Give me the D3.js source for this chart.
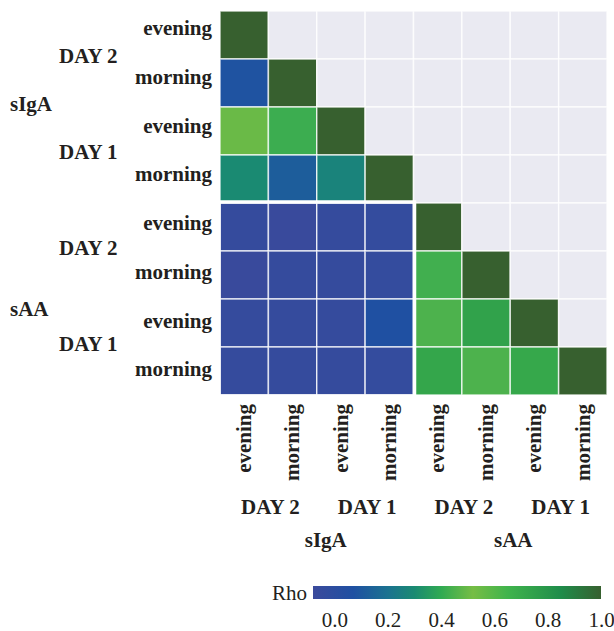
<!DOCTYPE html>
<html>
<head>
<meta charset="utf-8">
<script src="https://cdn.jsdelivr.net/npm/d3@7"></script>
<style>
  html, body { margin: 0; padding: 0; background: #ffffff; }
  svg { display: block; }
  text { font-family: "Liberation Serif", "DejaVu Serif", serif; fill: #231f20; }
</style>
</head>
<body>
<svg id="chart" width="614" height="631"></svg>
<script>
// ---------------- data ----------------
const analytes = ["sIgA", "sAA"];
const days = ["DAY 2", "DAY 1"];
const times = ["evening", "morning"];

// Spearman rho, rows/cols ordered: sIgA D2 ev, sIgA D2 mo, sIgA D1 ev, sIgA D1 mo,
// sAA D2 ev, sAA D2 mo, sAA D1 ev, sAA D1 mo  (null = upper triangle, not shown)
const rho = [
  [1.00, null, null, null, null, null, null, null],
  [0.08, 1.00, null, null, null, null, null, null],
  [0.50, 0.42, 1.00, null, null, null, null, null],
  [0.30, 0.12, 0.27, 1.00, null, null, null, null],
  [-0.05, -0.07, -0.05, -0.04, 1.00, null, null, null],
  [-0.07, -0.05, -0.05, -0.04, 0.43, 1.00, null, null],
  [-0.05, -0.05, -0.05, 0.07, 0.45, 0.74, 1.00, null],
  [-0.05, -0.05, -0.05, -0.04, 0.72, 0.45, 0.71, 1.00]
];

const colorStops = [-0.08, 0.07, 0.2, 0.3, 0.4, 0.52, 0.65, 0.85, 1.0];
const colorValues = ["#3b4a9c", "#1f50a2", "#1b7290", "#1a8a72", "#30aa52", "#76bd45", "#40b44c", "#1f8c4a", "#37602f"];
const legendTicks = [0.0, 0.2, 0.4, 0.6, 0.8, 1.0];

// ---------------- build ----------------
const keys = [];
analytes.forEach(a => days.forEach(d => times.forEach(t => keys.push(a + "|" + d + "|" + t))));

const svg = d3.select("#chart");
const x = d3.scaleBand().domain(keys).range([220, 607]);
const y = d3.scaleBand().domain(keys).range([11, 395]);
const yLab = d3.scalePoint().domain(keys).range([30, 371]);
const color = d3.scaleLinear().domain(colorStops).range(colorValues).clamp(true);

const cells = [];
keys.forEach((rk, i) => keys.forEach((ck, j) => cells.push({ r: rk, c: ck, v: rho[i][j] })));

const g = svg.append("g");
g.selectAll("rect.cell").data(cells).join("rect")
  .attr("class", "cell")
  .attr("x", d => x(d.c))
  .attr("y", d => y(d.r))
  .attr("width", x.bandwidth())
  .attr("height", y.bandwidth())
  .attr("fill", d => d.v === null ? "#eaeaf2" : color(d.v))
  .attr("stroke", "#ffffff")
  .attr("stroke-opacity", 0.75)
  .attr("stroke-width", 1.5);

// white frame around the cross block (sAA rows x sIgA columns)
const sIgAKeys = keys.filter(k => k.startsWith("sIgA"));
const sAAKeys = keys.filter(k => k.startsWith("sAA"));
g.append("rect")
  .attr("x", x(sIgAKeys[0]) - 1)
  .attr("y", y(sAAKeys[0]) - 1)
  .attr("width", x.bandwidth() * sIgAKeys.length + 2)
  .attr("height", y.bandwidth() * sAAKeys.length + 2)
  .attr("fill", "none")
  .attr("stroke", "#ffffff")
  .attr("stroke-width", 3.5);

// ---------------- row labels ----------------
const bold = 21;
keys.forEach(k => {
  const t = k.split("|")[2];
  svg.append("text")
    .attr("x", 212)
    .attr("y", yLab(k))
    .attr("dy", "0.25em")
    .attr("text-anchor", "end")
    .attr("font-weight", "bold")
    .attr("font-size", bold)
    .text(t);
});
analytes.forEach((a, ai) => {
  days.forEach((d, di) => {
    const kk = keys.filter(k => k.startsWith(a + "|" + d + "|"));
    const yc = (y(kk[0]) + y(kk[kk.length - 1]) + y.bandwidth()) / 2;
    svg.append("text")
      .attr("x", 59).attr("y", yc - 3).attr("dy", "0.32em")
      .attr("font-weight", "bold").attr("font-size", bold)
      .text(d);
    const xc = (x(kk[0]) + x(kk[kk.length - 1]) + x.bandwidth()) / 2;
    svg.append("text")
      .attr("x", xc + 2).attr("y", 507).attr("dy", "0.32em")
      .attr("text-anchor", "middle")
      .attr("font-weight", "bold").attr("font-size", bold)
      .text(d);
  });
  const ka = keys.filter(k => k.startsWith(a + "|"));
  const ya = (y(ka[0]) + y(ka[ka.length - 1]) + y.bandwidth()) / 2;
  svg.append("text")
    .attr("x", 10).attr("y", ya + (ai === 0 ? -3 : 10)).attr("dy", "0.32em")
    .attr("font-weight", "bold").attr("font-size", bold)
    .text(a);
  const xa = (x(ka[0]) + x(ka[ka.length - 1]) + x.bandwidth()) / 2;
  svg.append("text")
    .attr("x", xa + (ai === 0 ? 9 : 3)).attr("y", 540).attr("dy", "0.32em")
    .attr("text-anchor", "middle")
    .attr("font-weight", "bold").attr("font-size", bold)
    .text(a);
});

// ---------------- column labels ----------------
keys.forEach(k => {
  const t = k.split("|")[2];
  const cx = x(k) + x.bandwidth() / 2;
  svg.append("text")
    .attr("transform", `translate(${cx},404) rotate(-90)`)
    .attr("dy", "0.32em")
    .attr("text-anchor", "end")
    .attr("font-weight", "bold")
    .attr("font-size", bold)
    .text(t);
});

// ---------------- legend ----------------
const lx = d3.scaleLinear().domain([-0.08, 1.0]).range([313, 601]);
const defs = svg.append("defs");
const grad = defs.append("linearGradient").attr("id", "rhoGrad")
  .attr("x1", "0%").attr("x2", "100%").attr("y1", "0%").attr("y2", "0%");
colorStops.forEach((s, i) => {
  grad.append("stop")
    .attr("offset", ((s - colorStops[0]) / (colorStops[colorStops.length - 1] - colorStops[0]) * 100) + "%")
    .attr("stop-color", colorValues[i]);
});
svg.append("rect")
  .attr("x", lx(-0.08)).attr("y", 586)
  .attr("width", lx(1.0) - lx(-0.08)).attr("height", 13)
  .attr("fill", "url(#rhoGrad)");
svg.append("text")
  .attr("x", 307).attr("y", 593).attr("dy", "0.32em")
  .attr("text-anchor", "end").attr("font-size", 21)
  .text("Rho");
const lAxis = svg.append("g").attr("transform", "translate(0,608)")
  .call(d3.axisBottom(lx).tickValues(legendTicks).tickFormat(d3.format(".1f")).tickSize(0).tickPadding(4));
lAxis.select(".domain").remove();
lAxis.selectAll("text")
  .attr("font-family", "Liberation Serif, DejaVu Serif, serif")
  .attr("font-size", 21)
  .attr("fill", "#231f20");
</script>
</body>
</html>
